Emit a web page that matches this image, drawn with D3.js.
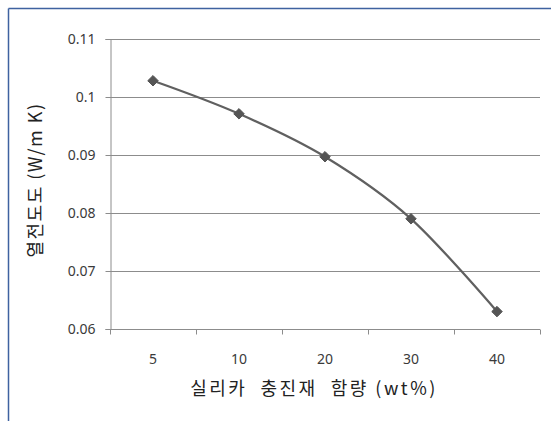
<!DOCTYPE html>
<html><head><meta charset="utf-8">
<script src="https://cdn.jsdelivr.net/npm/d3@7"></script>
<style>body{margin:0;background:#fff}</style>
</head><body>
<script>
const categories = ["5", "10", "20", "30", "40"];
const values = [0.1028, 0.0971, 0.0897, 0.0790, 0.0630];
const yTicks = [0.06, 0.07, 0.08, 0.09, 0.1, 0.11];
const xTitle = "실리카  충진재  함량 (wt%)";
const yTitle = "열전도도 (W/m K)";

const W = 551, H = 421;
const m = {left: 110, right: 11, top: 39, bottom: 92};
const svg = d3.select("body").append("svg").attr("width", W).attr("height", H);

// outer chart border (top & left visible)
svg.append("line").attr("x1", 8.5).attr("x2", W).attr("y1", 8.5).attr("y2", 8.5).attr("stroke", "#3f62a0").attr("stroke-width", 1.5);
svg.append("line").attr("x1", 8.5).attr("x2", 8.5).attr("y1", 8.5).attr("y2", H).attr("stroke", "#3f62a0").attr("stroke-width", 1.5);

const x = d3.scaleBand().domain(categories).range([m.left, W - m.right]);
const y = d3.scaleLinear().domain([0.06, 0.11]).range([H - m.bottom, m.top]);

// gridlines
svg.append("g").selectAll("line").data(yTicks.slice(1)).join("line")
  .attr("x1", m.left).attr("x2", W - m.right)
  .attr("y1", d => Math.round(y(d)) + 0.5).attr("y2", d => Math.round(y(d)) + 0.5)
  .attr("stroke", "#8c8c8c").attr("stroke-width", 1);

// y axis
const yAxis = svg.append("g").attr("transform", `translate(${m.left + 0.5},0)`)
  .call(d3.axisLeft(y).tickValues(yTicks).tickFormat(d => d3.format("")(+d.toFixed(2))).tickSizeOuter(0).tickSize(5).tickPadding(10));
yAxis.select(".domain").attr("stroke", "#8c8c8c");
yAxis.selectAll(".tick line").attr("stroke", "#8c8c8c");
yAxis.selectAll("text").attr("font-family", "'Noto Sans', sans-serif").attr("font-size", 14).attr("fill", "#3a3a3a");
yAxis.selectAll(".tick").attr("transform", d => `translate(0,${Math.round(y(d)) + 0.5})`);

// x axis
const xAxisY = Math.round(y(0.06)) + 0.5;
const xg = svg.append("g").attr("transform", `translate(0,${xAxisY})`);
xg.append("line").attr("x1", m.left).attr("x2", W - m.right).attr("y1", 0).attr("y2", 0).attr("stroke", "#8c8c8c");
const bounds = categories.map(c => x(c)).concat([x(categories[categories.length - 1]) + x.bandwidth()]);
xg.selectAll("line.t").data(bounds).join("line").attr("class", "t")
  .attr("x1", d => Math.round(d) + 0.5).attr("x2", d => Math.round(d) + 0.5).attr("y1", 0).attr("y2", 5)
  .attr("stroke", "#8c8c8c");
xg.selectAll("text").data(categories).join("text")
  .attr("x", d => x(d) + x.bandwidth() / 2).attr("y", 34)
  .attr("text-anchor", "middle")
  .attr("font-family", "'Noto Sans', sans-serif").attr("font-size", 14).attr("fill", "#3a3a3a")
  .text(d => d);

// line (smoothed)
const pts = categories.map((c, i) => [x(c) + x.bandwidth() / 2, y(values[i])]);
svg.append("path").datum(pts)
  .attr("d", d3.line().curve(d3.curveCatmullRom.alpha(0)))
  .attr("fill", "none").attr("stroke", "#606060").attr("stroke-width", 2.25);

// diamond markers
svg.append("g").selectAll("path").data(pts).join("path")
  .attr("transform", d => `translate(${d[0]},${d[1]})`)
  .attr("d", d3.symbol(d3.symbolDiamond2, 70)())
  .attr("fill", "#555").attr("stroke", "#555").attr("stroke-width", 1);

// axis titles
svg.append("text").attr("x", 314).attr("y", 395).attr("text-anchor", "middle")
  .attr("font-family", "'Noto Sans CJK KR', sans-serif").attr("font-size", 18).attr("fill", "#222")
  .attr("letter-spacing", 2.5)
  .style("white-space", "pre")
  .text(xTitle);
svg.append("text").attr("transform", "translate(42,180) rotate(-90)").attr("text-anchor", "middle")
  .attr("font-family", "'Noto Sans CJK KR', sans-serif").attr("font-size", 18).attr("fill", "#222")
  .attr("letter-spacing", 1.5)
  .text(yTitle);
</script>
</body></html>
